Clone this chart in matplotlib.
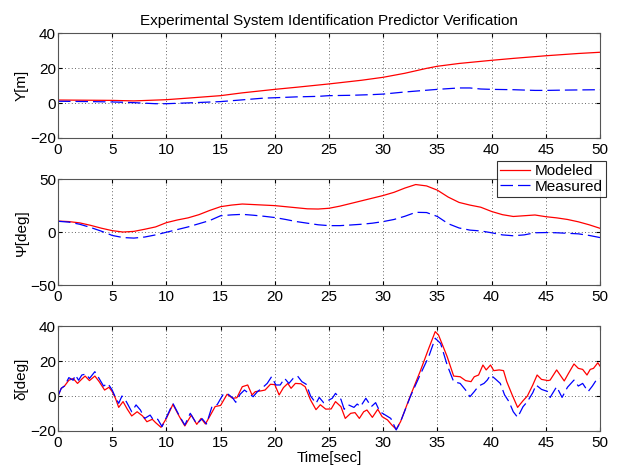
import matplotlib
matplotlib.use('Agg')
import matplotlib.pyplot as plt

plt.rcParams['font.family'] = ['Liberation Sans', 'DejaVu Sans']
plt.rcParams['font.size'] = 11

# Lateral position Y[m]
t_y_mod = [0, 5, 7, 10, 12, 15, 17, 20, 22, 25, 28, 30, 32, 34, 35, 37, 40, 42, 45, 48, 50]
y_mod = [1.7, 1.5, 1.2, 1.9, 2.8, 4.2, 5.8, 7.8, 9.0, 10.9, 13.0, 14.7, 17.0, 19.8, 21.0, 22.6, 24.4, 25.5, 27.0, 28.3, 29.0]
t_y_meas = [0, 3, 5, 7, 9, 10, 13, 15, 17, 19, 20, 22, 24, 25, 27, 29, 30, 32, 34, 35, 37, 38, 39, 40, 42, 44, 45, 47, 50]
y_meas = [1.0, 0.8, 0.6, 0.2, -0.4, -0.4, 0.3, 0.8, 1.8, 2.8, 3.0, 3.5, 3.8, 4.2, 4.4, 4.8, 5.1, 6.3, 7.3, 7.8, 8.6, 8.6, 8.0, 7.8, 7.6, 7.2, 7.2, 7.4, 7.6]

# Heading psi[deg], one sample per second
t_psi = list(range(0, 51))
psi_mod = [10.5, 10.0, 8.8, 6.5, 3.8, 1.5, 0.2, 0.8, 2.8, 5.0,
           9.0, 11.5, 13.5, 16.5, 20.5, 24.0, 25.5, 26.5, 26.0, 25.5,
           25.0, 24.0, 23.0, 22.0, 21.8, 22.5, 24.5, 27.0, 29.5, 32.0,
           34.5, 37.5, 41.5, 44.8, 43.5, 39.5, 33.0, 28.0, 25.5, 23.5,
           19.5, 16.5, 14.8, 15.5, 16.2, 14.6, 13.5, 12.0, 9.8, 7.0, 3.7]
psi_meas = [10.3, 9.5, 7.5, 4.5, 1.0, -3.0, -5.0, -5.5, -4.5, -2.5,
            0.0, 2.5, 5.0, 8.0, 11.0, 15.5, 16.3, 16.8, 16.0, 15.0,
            13.8, 12.0, 10.0, 8.5, 7.0, 6.2, 6.2, 6.8, 7.5, 8.5,
            10.0, 12.0, 15.0, 18.7, 18.5, 14.8, 8.0, 4.0, 2.0, 1.2,
            -0.5, -2.5, -3.3, -2.5, -0.5, -0.3, -0.5, -1.0, -1.5, -3.0, -5.0]

# Steering angle delta[deg]
t_d_mod = [0, 0.3, 0.6, 1.0, 1.4, 1.8, 2.2, 2.5, 2.9, 3.4, 3.8, 4.3, 4.7, 5.0, 5.3, 5.6, 6.0, 6.4, 6.8,
           7.3, 7.8, 8.2, 8.7, 9.0, 9.5, 10.0, 10.6, 11.2, 11.7, 12.3, 12.8, 13.2, 13.6, 14.1, 14.5,
           15.0, 15.6, 16.1, 16.5, 17.0, 17.5, 17.9, 18.2, 18.7, 19.1, 19.6, 20.0, 20.4, 20.8, 21.2,
           21.5, 21.9, 22.4, 22.8, 23.3, 23.8, 24.2, 24.7, 25.2, 25.6, 26.1, 26.5, 27.0, 27.4, 27.8,
           28.2, 28.5, 29.0, 29.5, 29.9, 30.4, 30.8, 31.2, 31.6, 32.5, 33.4, 34.2, 34.8, 35.1, 35.9,
           36.5, 37.1, 37.6, 38.1, 38.4, 38.8, 39.2, 39.5, 39.9, 40.2, 40.7, 41.1, 41.4, 41.9, 42.4,
           42.9, 43.3, 43.8, 44.2, 44.6, 45.2, 45.4, 46.0, 46.7, 47.1, 47.6, 48.0, 48.4, 48.8, 49.1,
           49.4, 49.8, 50.0]
d_mod = [0.0, 4.4, 5.7, 9.0, 10.0, 7.2, 9.7, 11.4, 8.8, 11.4, 8.2, 3.4, 5.0, 2.5, -1.3, -6.5, -3.2, -7.6, -11.4,
         -9.0, -11.4, -14.7, -13.3, -15.2, -17.9, -12.8, -4.8, -11.8, -17.1, -10.9, -16.2, -12.8, -16.0, -10.5, -6.0,
         -5.4, 1.0, -1.3, -1.0, 5.3, 6.3, 0.6, 2.5, 2.9, 3.4, 6.7, 6.5, 0.6, 4.8, 7.2,
         4.4, 7.2, 7.0, 5.3, -2.3, -7.8, -5.0, -7.5, -7.4, -3.2, -6.1, -12.8, -9.9, -9.5, -12.8,
         -9.0, -8.0, -12.2, -7.6, -11.8, -13.7, -16.6, -19.0, -14.7, 0.0, 13.9, 27.2, 36.8, 34.9, 22.5,
         11.4, 11.0, 8.8, 8.2, 11.0, 12.0, 17.7, 14.9, 17.7, 14.5, 14.9, 14.5, 8.2, 0.6, -6.5,
         -2.7, 0.0, 6.3, 12.0, 9.5, 8.8, 9.1, 14.9, 8.6, 13.0, 18.3, 15.8, 15.2, 12.0, 15.2,
         15.8, 19.0, 17.1]

t_d_meas = [0, 0.3, 0.6, 1.0, 1.4, 1.6, 1.9, 2.2, 2.6, 2.9, 3.4, 3.7, 4.2, 4.6, 5.0, 5.3, 5.6, 5.9, 6.3,
            6.8, 7.2, 7.6, 8.0, 8.5, 8.8, 9.2, 9.6, 10.0, 10.6, 11.2, 11.7, 12.2, 12.8, 13.3, 13.7,
            14.2, 14.7, 15.2, 15.6, 16.1, 16.4, 16.8, 17.2, 17.6, 18.0, 18.4, 18.8, 19.3, 19.7, 20.1,
            20.5, 20.9, 21.3, 21.7, 22.1, 22.5, 22.9, 23.3, 23.8, 24.1, 24.5, 25.0, 25.3, 25.6, 26.1,
            26.4, 26.8, 27.3, 27.6, 27.9, 28.4, 28.9, 29.3, 29.7, 30.2, 30.7, 31.2, 31.6, 32.5, 33.4,
            34.2, 34.8, 35.3, 35.9, 36.5, 37.1, 37.6, 38.0, 38.4, 38.8, 39.3, 39.6, 39.9, 40.3, 40.8,
            41.2, 41.6, 42.0, 42.4, 42.9, 43.3, 43.8, 44.1, 44.6, 45.2, 45.4, 46.0, 46.5, 47.0, 47.6,
            48.0, 48.4, 48.9, 49.3, 49.7, 50.0]
d_meas = [0.0, 4.4, 5.7, 10.5, 9.0, 12.0, 9.0, 12.0, 12.6, 10.0, 13.9, 11.0, 5.7, 7.2, 3.4, -0.8, -4.2, 0.0, -3.2,
          -9.0, -5.1, -8.0, -12.8, -10.9, -13.7, -13.3, -17.5, -12.2, -4.2, -11.4, -16.6, -9.9, -16.0, -13.0, -16.0,
          -6.1, -4.8, 0.6, 1.5, -1.0, -3.6, 1.0, 3.4, 1.5, -0.4, 2.5, 4.4, 7.2, 11.0, 6.3,
          6.3, 10.1, 7.2, 10.1, 11.4, 8.2, 6.7, 0.0, -4.2, -0.8, -3.8, -2.3, -1.3, 1.5, -1.9,
          -7.6, -5.1, -6.5, -4.6, -6.1, -1.3, -6.1, -3.8, -9.0, -10.9, -12.8, -19.4, -14.7, -0.4, 12.0,
          22.5, 33.0, 30.0, 17.7, 8.2, 7.2, 3.4, -0.4, 2.5, 5.7, 7.2, 9.1, 12.0, 10.0, 7.2,
          0.6, -3.2, -9.0, -12.2, -6.1, -3.2, 1.9, 6.3, 3.8, 2.5, -0.8, 5.3, -0.8, 5.0, 9.1,
          5.7, 7.2, 2.5, 5.7, 9.5, 10.0]

fig = plt.figure(figsize=(6.19, 4.67), dpi=100)

left, width = 0.0937, 0.8756
ax1 = fig.add_axes([left, 0.7045, width, 0.2248])
ax2 = fig.add_axes([left, 0.3887, width, 0.2280])
ax3 = fig.add_axes([left, 0.0771, width, 0.2248])

red = '#ff0000'
blue = '#0000ff'
dash = (0, (10, 4))

ax1.plot(t_y_mod, y_mod, color=red, lw=0.9, label='Modeled')
ax1.plot(t_y_meas, y_meas, color=blue, lw=0.9, ls=dash, label='Measured')
ax2.plot(t_psi, psi_mod, color=red, lw=0.9)
ax2.plot(t_psi, psi_meas, color=blue, lw=0.9, ls=dash)
ax3.plot(t_d_mod, d_mod, color=red, lw=0.9)
ax3.plot(t_d_meas, d_meas, color=blue, lw=0.9, ls=dash)

ax1.set_ylim(-20, 40)
ax1.set_yticks([-20, 0, 20, 40])
ax2.set_ylim(-50, 50)
ax2.set_yticks([-50, 0, 50])
ax3.set_ylim(-20, 40)
ax3.set_yticks([-20, 0, 20, 40])

ax1.set_ylabel('Y[m]')
ax2.set_ylabel('\u03a8[deg]')
ax3.set_ylabel('\u03b4[deg]')
ax3.set_xlabel('Time[sec]', labelpad=0.5)
ax1.set_title('Experimental System Identification Predictor Verification', fontsize=11, pad=6)

for ax in (ax1, ax2, ax3):
    ax.set_xlim(0, 50)
    ax.set_xticks(range(0, 51, 5))
    ax.grid(True, color='#333333', ls=(0, (1, 3)), lw=0.6)
    ax.tick_params(direction='in', top=True, right=True, length=3, labelsize=11)
    ax.tick_params(axis='y', pad=1.5)
    ax.tick_params(axis='x', pad=3.5)
    for s in ax.spines.values():
        s.set_color('#555555')
        s.set_linewidth(0.8)
    ax.yaxis.labelpad = 1

# Legend box sits over the top of the middle panel
leg = fig.legend(loc='upper right', bbox_to_anchor=(606 / 619, 1 - 161 / 467),
                 fontsize=11, frameon=True, fancybox=False, handlelength=2.0,
                 borderaxespad=0, borderpad=0.2, labelspacing=0.1, handletextpad=0.3)
leg.get_frame().set_edgecolor('black')
leg.get_frame().set_linewidth(0.8)

fig.savefig('out.png', dpi=100)
